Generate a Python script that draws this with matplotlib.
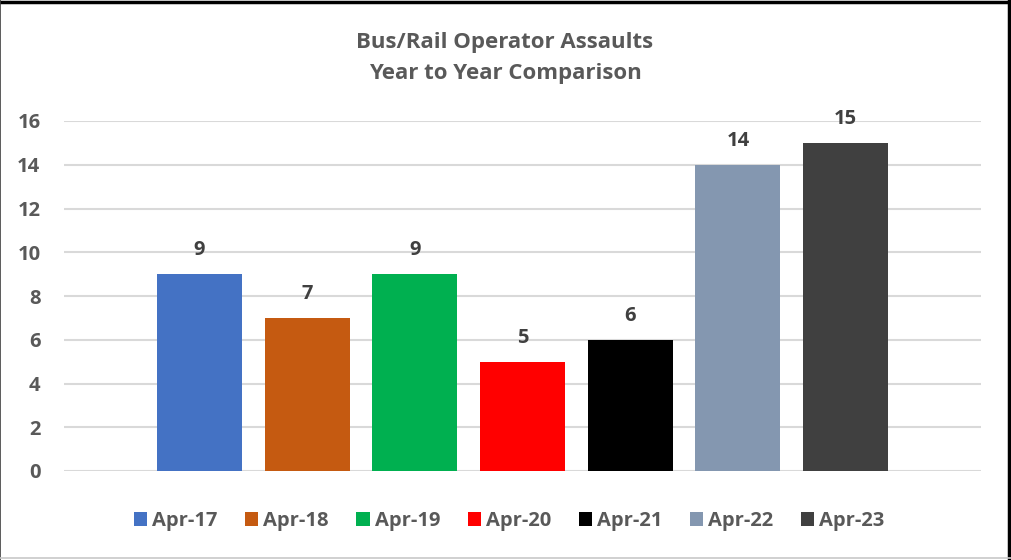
import matplotlib.pyplot as plt
from matplotlib.lines import Line2D
from matplotlib.patches import Patch

plt.rcParams["font.family"] = ["Open Sans", "DejaVu Sans"]

# dữ liệu
labels = ["Apr-17", "Apr-18", "Apr-19", "Apr-20", "Apr-21", "Apr-22", "Apr-23"]
values = [9, 7, 9, 5, 6, 14, 15]
colors = ["#4472C4", "#C55A11", "#00B050", "#FF0000", "#000000", "#8497B0", "#404040"]
y_ticks = [0, 2, 4, 6, 8, 10, 12, 14, 16]

text_color = "#595959"

fig = plt.figure(figsize=(10.12, 5.6), dpi=100)
ax = fig.add_axes([64 / 1012, 89 / 560, 917 / 1012, 350 / 560])

x = list(range(len(values)))
bars = ax.bar(x, values, width=0.79, color=colors, zorder=3)

for xi, v in zip(x, values):
    ax.annotate(str(v), (xi, v), xytext=(0, 10), textcoords="offset points",
                ha="center", va="bottom", fontsize=14.5, fontweight="bold", color="#404040")

ax.set_xlim(-1.257, 7.257)
ax.set_ylim(0, 16)
ax.set_yticks(y_ticks)
ax.set_xticks([])
ax.tick_params(axis="y", length=0, pad=17, labelsize=14.5, labelcolor=text_color)
for lab in ax.get_yticklabels():
    lab.set_fontweight("bold")
ax.grid(axis="y", color="#D9D9D9", linewidth=1.5, zorder=0)
for s in ax.spines.values():
    s.set_visible(False)

fig.text(505 / 1012, 1 - 58 / 560, "Bus/Rail Operator Assaults\nYear to Year Comparison",
         ha="center", va="center", fontsize=16, fontweight="bold", color=text_color,
         linespacing=1.58)

handles = [Patch(facecolor=c, label=l) for c, l in zip(colors, labels)]
leg = fig.legend(handles=handles, loc="center", bbox_to_anchor=(509 / 1012, 1 - 521 / 560),
                 ncol=7, frameon=False, handlelength=0.65, handleheight=0.65,
                 handletextpad=0.25, columnspacing=1.37,
                 prop={"weight": "bold", "size": 14.5})
for t in leg.get_texts():
    t.set_color(text_color)

# khung viền
fig.add_artist(Line2D([0, 1], [1 - 2 / 560, 1 - 2 / 560], color="black", linewidth=2.5))
fig.add_artist(Line2D([1009 / 1012, 1009 / 1012], [0, 1], color="black", linewidth=2.5))
fig.add_artist(Line2D([0.5 / 1012, 0.5 / 1012], [0, 1], color="#404040", linewidth=1.2))
fig.add_artist(Line2D([0, 1], [2 / 560, 2 / 560], color="#C8C8C8", linewidth=1.2))

fig.savefig("out.png", dpi=100)
